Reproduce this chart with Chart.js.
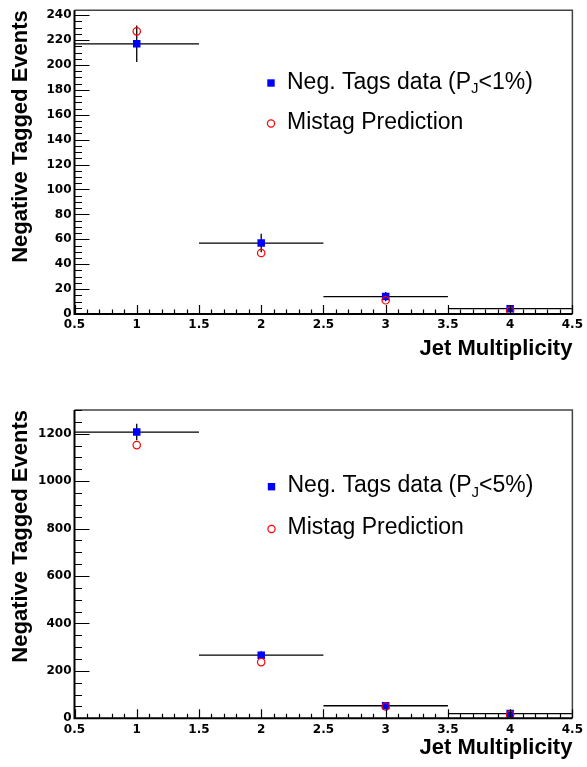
<!DOCTYPE html>
<html>
<head>
<meta charset="utf-8">
<script src="https://cdn.jsdelivr.net/npm/chart.js@4.4.1/dist/chart.umd.min.js"></script>
<style>
  html, body { margin: 0; padding: 0; background: #fff; }
  canvas { display: block; }
</style>
</head>
<body>
<canvas id="chartTop" width="587" height="383"></canvas>
<canvas id="chartBottom" width="587" height="384"></canvas>
<script>
// jet multiplicity bins (bin centre, half width)
const jetBins = [1, 2, 3, 4];
const binHalfWidth = [0.5, 0.5, 0.5, 0.5];

// negative tags, P_J < 1%
const negTags1 = [217, 57, 14, 4.3];
const negTagsErr1 = [14.7, 7.5, 3.7, 2.1];
const mistag1 = [227, 49, 11, 2.6];

// negative tags, P_J < 5%
const negTags5 = [1207, 266, 53, 20];
const negTagsErr5 = [34.7, 16.3, 7.3, 4.5];
const mistag5 = [1152, 237, 50, 15];

const tickFont = { family: 'DejaVu Sans', size: 12, weight: 'bold' };
const titleFont = { family: 'Liberation Sans', size: 22, weight: 'bold' };

function rootPlugin(vals, errs, legendCut, leg) {
  return {
    id: 'rootStyle',
    beforeDatasetsDraw(chart) {
      const { ctx, scales: { x, y } } = chart;
      ctx.save();
      ctx.strokeStyle = '#000';
      ctx.lineWidth = 1.3;
      vals.forEach((v, i) => {
        const px = x.getPixelForValue(jetBins[i]);
        const py = y.getPixelForValue(v);
        ctx.beginPath();
        ctx.moveTo(x.getPixelForValue(jetBins[i] - binHalfWidth[i]), py);
        ctx.lineTo(x.getPixelForValue(jetBins[i] + binHalfWidth[i]), py);
        ctx.moveTo(px, y.getPixelForValue(Math.max(0, v - errs[i])));
        ctx.lineTo(px, y.getPixelForValue(v + errs[i]));
        ctx.stroke();
      });
      ctx.restore();
    },
    afterDraw(chart) {
      const { ctx, chartArea: a, scales: { x, y } } = chart;
      ctx.save();
      // frame
      ctx.strokeStyle = '#444';
      ctx.lineWidth = 1.5;
      ctx.beginPath();
      ctx.moveTo(a.left, a.top);
      ctx.lineTo(a.right, a.top);
      ctx.lineTo(a.right, a.bottom);
      ctx.stroke();
      ctx.strokeStyle = '#000';
      ctx.lineWidth = 2;
      ctx.beginPath();
      ctx.moveTo(a.left, a.top);
      ctx.lineTo(a.left, a.bottom);
      ctx.lineTo(a.right, a.bottom);
      ctx.stroke();
      // tick marks
      ctx.lineWidth = 1.2;
      ctx.beginPath();
      const ys = chart.options.scales.y;
      for (let k = 0; k * ys.minorStep <= ys.max + 1e-6; k++) {
        const v = k * ys.minorStep;
        const len = (k % ys.minorPerMajor === 0) ? 15 : 7.5;
        const py = Math.round(y.getPixelForValue(v)) + 0.5;
        ctx.moveTo(a.left, py);
        ctx.lineTo(a.left + len, py);
      }
      for (let k = 0; k <= 40; k++) {
        const v = 0.5 + k * 0.1;
        const len = (k % 5 === 0) ? 9 : 4.5;
        const px = Math.round(x.getPixelForValue(v)) + 0.5;
        ctx.moveTo(px, a.bottom);
        ctx.lineTo(px, a.bottom - len);
      }
      ctx.stroke();
      // legend
      ctx.fillStyle = '#0000ff';
      ctx.fillRect(leg.x - 3.7, leg.y1 - 3.7, 7.4, 7.4);
      ctx.strokeStyle = '#ff0000';
      ctx.lineWidth = 1.2;
      ctx.beginPath();
      ctx.arc(leg.x, leg.y2, 3.6, 0, Math.PI * 2);
      ctx.stroke();
      ctx.fillStyle = '#000';
      ctx.textBaseline = 'alphabetic';
      ctx.textAlign = 'left';
      const big = '23px "Liberation Sans"';
      const small = '15px "Liberation Sans"';
      let tx = leg.x + 16;
      ctx.font = big;
      ctx.fillText('Neg. Tags data (P', tx, leg.y1 + 5.5);
      tx += ctx.measureText('Neg. Tags data (P').width;
      ctx.font = small;
      ctx.fillText('J', tx, leg.y1 + 10);
      tx += ctx.measureText('J').width;
      ctx.font = big;
      ctx.fillText('<' + legendCut + ')', tx, leg.y1 + 5.5);
      ctx.fillText('Mistag Prediction', leg.x + 16, leg.y2 + 5);
      ctx.restore();
    }
  };
}

function makeChart(id, vals, errs, pred, yMax, yStep, minorStep, cut, pad, xAxisHeight, titlePad, leg) {
  return new Chart(document.getElementById(id), {
    type: 'scatter',
    data: {
      datasets: [
        {
          label: 'Mistag Prediction',
          data: jetBins.map((b, i) => ({ x: b, y: pred[i] })),
          pointStyle: 'circle',
          pointRadius: 3.7,
          pointHoverRadius: 3.7,
          borderColor: '#ff0000',
          backgroundColor: 'rgba(0,0,0,0)',
          borderWidth: 1.2,
          order: 0
        },
        {
          label: 'Neg. Tags data',
          data: jetBins.map((b, i) => ({ x: b, y: vals[i] })),
          pointStyle: 'rect',
          pointRadius: 5.3,
          pointHoverRadius: 5.3,
          borderColor: '#0000ff',
          backgroundColor: '#0000ff',
          borderWidth: 0,
          order: 1
        }
      ]
    },
    options: {
      responsive: false,
      animation: false,
      layout: { padding: pad },
      plugins: { legend: { display: false }, tooltip: { enabled: false } },
      scales: {
        x: {
          type: 'linear', min: 0.5, max: 4.5,
          grid: { display: false, drawTicks: false },
          border: { display: false },
          ticks: { stepSize: 0.5, padding: 4, color: '#000', font: tickFont, maxRotation: 0,
                   callback: v => String(v) },
          title: { display: true, text: 'Jet Multiplicity', align: 'end', color: '#000',
                   font: titleFont, padding: { top: 0, bottom: titlePad } },
          afterFit(s) { s.height = xAxisHeight; }
        },
        y: {
          type: 'linear', min: 0, max: yMax,
          minorStep: minorStep, minorPerMajor: Math.round(yStep / minorStep),
          grid: { display: false, drawTicks: false },
          border: { display: false },
          ticks: { stepSize: yStep, padding: 3, color: '#000', font: tickFont, includeBounds: false,
                   callback: v => String(v) },
          title: { display: true, text: 'Negative Tagged Events', align: 'end', color: '#000',
                   font: titleFont, padding: { top: 8, bottom: 0 } },
          afterFit(s) { s.width = 74.5; }
        }
      }
    },
    plugins: [rootPlugin(vals, errs, cut, leg)]
  });
}

makeChart('chartTop', negTags1, negTagsErr1, mistag1, 244, 20, 5, '1%',
  { top: 6, right: 11, left: 0, bottom: 0 }, 69, 21,
  { x: 271, y1: 83, y2: 123.5 });

makeChart('chartBottom', negTags5, negTagsErr5, mistag5, 1300, 200, 50, '5%',
  { top: 27, right: 11, left: 0, bottom: 1 }, 47.7, 4.5,
  { x: 271.5, y1: 103.7, y2: 146 });
</script>
</body>
</html>
